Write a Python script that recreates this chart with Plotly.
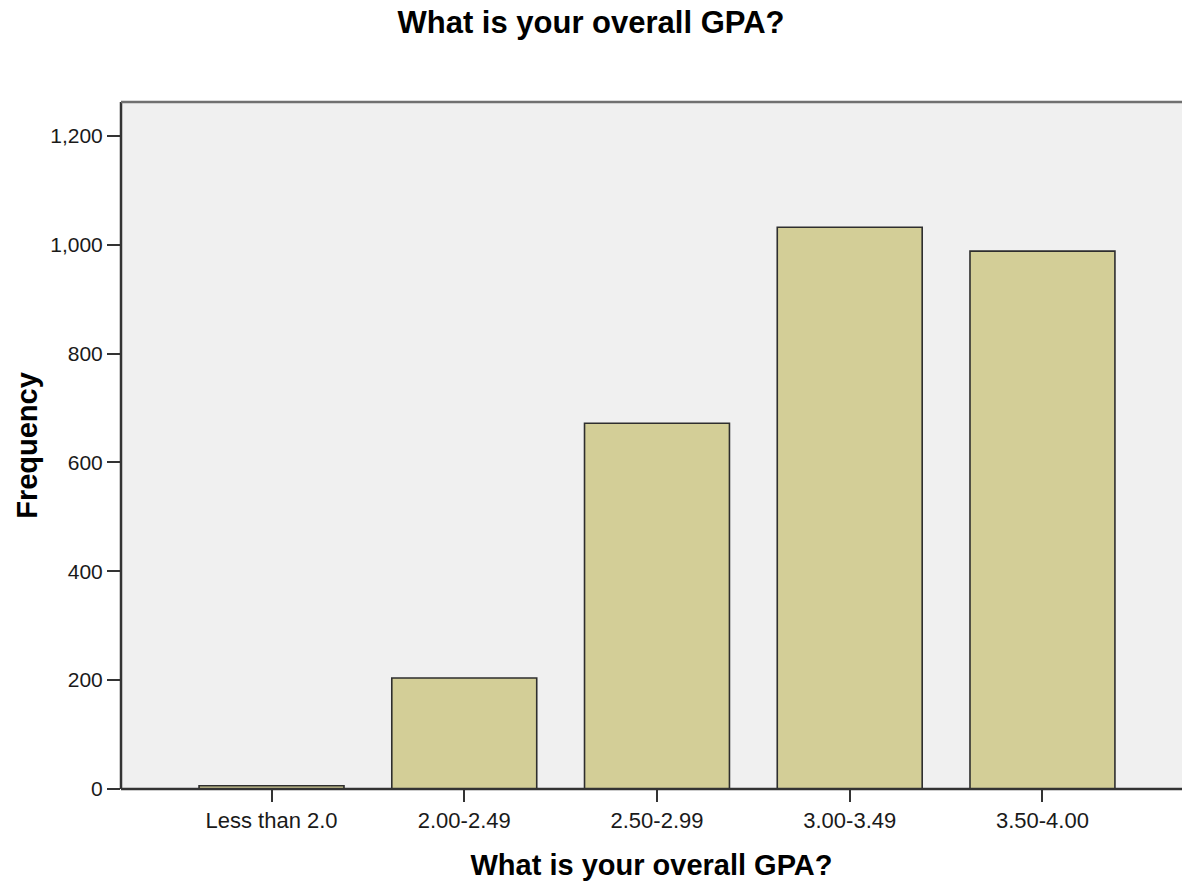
import plotly.graph_objects as go

categories = ["Less than 2.0", "2.00-2.49", "2.50-2.99", "3.00-3.49", "3.50-4.00"]
frequencies = [6, 204, 672, 1032, 988]
y_tick_values = [0, 200, 400, 600, 800, 1000, 1200]
y_tick_labels = ["0", "200", "400", "600", "800", "1,000", "1,200"]

title_text = "What is your overall GPA?"
x_title = "What is your overall GPA?"
y_title = "Frequency"

fig = go.Figure(
    go.Bar(
        x=categories,
        y=frequencies,
        width=0.752,
        marker=dict(color="#D3CE97", line=dict(color="#2E2E2E", width=1.6)),
        hoverinfo="x+y",
    )
)

font_family = "Liberation Sans, Arial, sans-serif"

fig.update_layout(
    width=1182,
    height=884,
    margin=dict(l=121, r=0, t=102, b=95),
    paper_bgcolor="white",
    plot_bgcolor="#F0F0F0",
    showlegend=False,
    title=dict(
        text="<b>" + title_text + "</b>",
        x=0.5, xanchor="center", xref="container",
        y=1 - 22 / 884, yanchor="middle", yref="container",
        font=dict(family=font_family, size=31, color="black"),
    ),
    font=dict(family=font_family, color="#1a1a1a"),
)

fig.update_xaxes(
    type="category",
    range=[-0.781, 4.724],
    showgrid=False,
    showline=False,
    zeroline=False,
    ticks="outside",
    ticklen=12,
    tickwidth=2,
    tickcolor="#333333",
    tickfont=dict(family=font_family, size=22, color="#1a1a1a"),
    title=dict(text="<b>" + x_title + "</b>", font=dict(family=font_family, size=29, color="black"), standoff=22),
)

fig.update_yaxes(
    range=[0, 1262],
    tickvals=y_tick_values,
    ticktext=y_tick_labels,
    showgrid=False,
    zeroline=False,
    showline=False,
    ticks="outside",
    ticklen=13,
    tickwidth=2,
    tickcolor="#333333",
    tickfont=dict(family=font_family, size=21, color="#1a1a1a"),
    title=dict(text="<b>" + y_title + "</b>", font=dict(family=font_family, size=29, color="black"), standoff=4),
)

# frame lines: left axis, bottom axis (dark) and top border (grey)
fig.add_shape(type="line", xref="paper", yref="paper", x0=0, x1=0, y0=0, y1=1,
              line=dict(color="#333333", width=2.5))
fig.add_shape(type="line", xref="paper", yref="paper", x0=0, x1=1, y0=0, y1=0,
              line=dict(color="#333333", width=2.5))
fig.add_shape(type="line", xref="paper", yref="paper", x0=0, x1=1, y0=1, y1=1,
              line=dict(color="#707070", width=2.5))

fig.write_html(
    "out.html",
    config={"displayModeBar": False},
    post_script="document.body.style.margin='0';document.body.style.overflow='hidden';",
)
